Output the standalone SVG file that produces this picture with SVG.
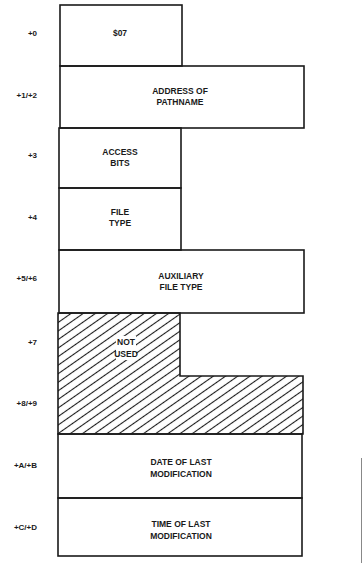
<svg xmlns="http://www.w3.org/2000/svg" width="363" height="563" viewBox="0 0 363 563">
<style>
.box{fill:none;stroke:#1a1a1a;stroke-width:1.6}
.t{font-family:"Liberation Sans",Arial,sans-serif;font-size:8.5px;font-weight:bold;fill:#1a1a1a;text-anchor:middle}
.l{font-family:"Liberation Sans",Arial,sans-serif;font-size:8px;font-weight:bold;fill:#1a1a1a;text-anchor:end}
</style>
<defs>
<pattern id="hatch" width="7" height="7" patternUnits="userSpaceOnUse" patternTransform="rotate(-35)">
<line x1="0" y1="3.5" x2="7" y2="3.5" stroke="#1a1a1a" stroke-width="1.1"/>
</pattern>
</defs>
<rect width="363" height="563" fill="#fff"/>
<g id="labels">
<text class="l" x="37" y="36">+0</text>
<text class="l" x="37" y="98">+1/+2</text>
<text class="l" x="37" y="158">+3</text>
<text class="l" x="37" y="220">+4</text>
<text class="l" x="37" y="281">+5/+6</text>
<text class="l" x="37" y="345">+7</text>
<text class="l" x="37" y="406">+8/+9</text>
<text class="l" x="37" y="468">+A/+B</text>
<text class="l" x="37" y="530">+C/+D</text>
</g>
<g id="n0"><rect class="box" x="60" y="5" width="122" height="61"/><text class="t" x="120" y="36">$07</text></g>
<g id="n1"><rect class="box" x="60" y="66" width="244" height="62"/><text class="t" x="180" y="94">ADDRESS OF</text><text class="t" x="180" y="105">PATHNAME</text></g>
<g id="n3"><rect class="box" x="59" y="128" width="122" height="60"/><text class="t" x="120" y="155">ACCESS</text><text class="t" x="120" y="166">BITS</text></g>
<g id="n4"><rect class="box" x="59" y="188" width="122" height="62"/><text class="t" x="120" y="215">FILE</text><text class="t" x="120" y="226">TYPE</text></g>
<g id="n5"><rect class="box" x="59" y="250" width="245" height="63"/><text class="t" x="181" y="279">AUXILIARY</text><text class="t" x="181" y="290">FILE TYPE</text></g>
<g id="n7">
<path d="M58,313 H180 V376 H303 V434 H58 Z" fill="url(#hatch)" stroke="#1a1a1a" stroke-width="1.6"/>
<rect x="116" y="336" width="20" height="24" fill="#fff"/>
<text class="t" x="126" y="345">NOT</text><text class="t" x="126" y="357">USED</text>
</g>
<g id="nA"><rect class="box" x="58" y="434" width="244" height="64"/><text class="t" x="181" y="465">DATE OF LAST</text><text class="t" x="181" y="477">MODIFICATION</text></g>
<g id="nC"><rect class="box" x="58" y="498" width="244" height="58"/><text class="t" x="181" y="527">TIME OF LAST</text><text class="t" x="181" y="539">MODIFICATION</text></g>
<g id="connectors"></g>
<line x1="361.5" y1="458" x2="361.5" y2="563" stroke="#888" stroke-width="1"/>
</svg>
